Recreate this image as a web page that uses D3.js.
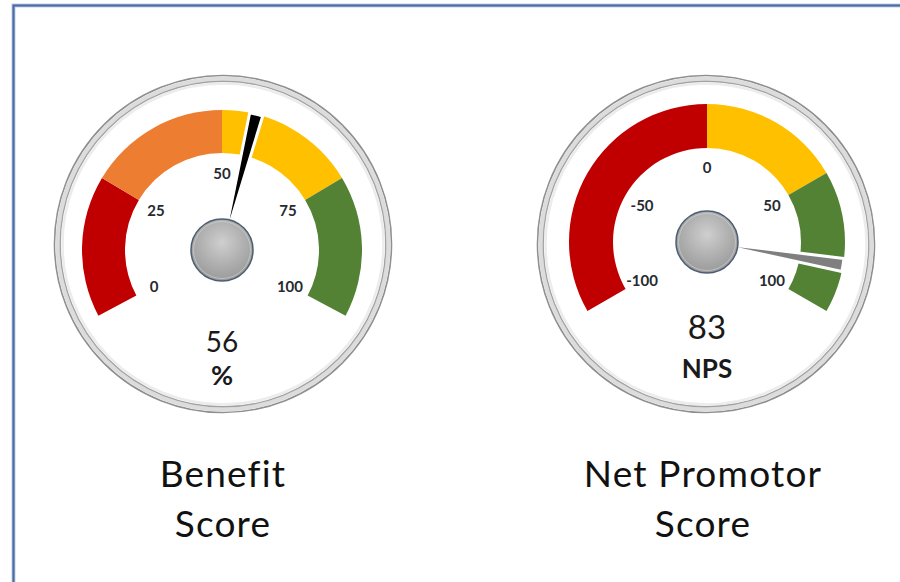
<!DOCTYPE html>
<html>
<head>
<meta charset="utf-8">
<script src="https://cdn.jsdelivr.net/npm/d3@7"></script>
<style>
  html, body { margin: 0; padding: 0; background: #fff; }
  svg { display: block; }
  text { font-family: Lato, "Open Sans", sans-serif; font-variant-ligatures: none; }
</style>
</head>
<body>
<div id="container"></div>
<script>
// gauge data
const gaugeIds = ["benefit", "nps"];
const gaugeValues = [56, 83];
const valueLabels = ["56", "83"];
const unitLabels = ["%", "NPS"];
const scaleMin = [0, -100];
const scaleMax = [100, 100];
const tickValues = [[0, 25, 50, 75, 100], [-100, -50, 0, 50, 100]];
const bandBreaks = [[0, 25, 50, 75, 100], [-100, 0, 50, 100]];
const titleLines = [["Benefit", "Score"], ["Net Promotor", "Score"]];

// styles
const bandColors = [
  ["#c00000", "#ed7d31", "#ffc000", "#548235"],
  ["#c00000", "#ffc000", "#548235"]
];
const needleColors = ["#000000", "#7f7f7f"];

// layout for each gauge
const layout = [
  {bx: 223, by: 244, cx: 222, cy: 250, sweep: 118, rIn: 97, rOut: 140, rLab: 77, rNeedle: 140,
   valY: 352, valSize: 28, unitY: 385, unitSize: 27, titleX: 223, titleY: [487, 537]},
  {bx: 706, by: 244, cx: 707, cy: 242, sweep: 120, rIn: 94, rOut: 138, rLab: 75, rNeedle: 138,
   valY: 339, valSize: 33, unitY: 378, unitSize: 26, titleX: 703, titleY: [487, 537]}
];

const width = 900, height = 582;
const rad = Math.PI / 180;

const svg = d3.select("#container").append("svg")
  .attr("width", width)
  .attr("height", height)
  .attr("viewBox", [0, 0, width, height]);

const defs = svg.append("defs");
const knobGrad = defs.append("radialGradient")
  .attr("id", "knob")
  .attr("cx", "50%").attr("cy", "38%").attr("r", "70%");
knobGrad.append("stop").attr("offset", "0%").attr("stop-color", "#cfcfcf");
knobGrad.append("stop").attr("offset", "50%").attr("stop-color", "#b0b0b0");
knobGrad.append("stop").attr("offset", "85%").attr("stop-color", "#9c9c9c");
knobGrad.append("stop").attr("offset", "100%").attr("stop-color", "#808080");

// card border (runs off the right and bottom edge)
svg.append("rect")
  .attr("x", 13.5).attr("y", 5.5)
  .attr("width", 1000).attr("height", 1000)
  .attr("fill", "none")
  .attr("stroke", "#c3d0e4")
  .attr("stroke-width", 4);
svg.append("rect")
  .attr("x", 13.5).attr("y", 5.5)
  .attr("width", 1000).attr("height", 1000)
  .attr("fill", "none")
  .attr("stroke", "#4a6da6")
  .attr("stroke-width", 2.2);

gaugeIds.forEach(function(id, i){
  const L = layout[i];
  const angle = d3.scaleLinear()
    .domain([scaleMin[i], scaleMax[i]])
    .range([-L.sweep * rad, L.sweep * rad]);

  // bezel
  const bez = svg.append("g").attr("class", "bezel " + id)
    .attr("transform", `translate(${L.bx},${L.by})`);
  bez.append("circle").attr("r", 168.5)
    .attr("fill", "#fff").attr("stroke", "#8f8f8f").attr("stroke-width", 1.6);
  bez.append("circle").attr("r", 165.5)
    .attr("fill", "none").attr("stroke", "#dcdcdc").attr("stroke-width", 4);
  bez.append("circle").attr("r", 162.8)
    .attr("fill", "none").attr("stroke", "#a3a3a3").attr("stroke-width", 1.4);
  bez.append("circle").attr("r", 160.5)
    .attr("fill", "none").attr("stroke", "#ececec").attr("stroke-width", 2.5);

  const g = svg.append("g").attr("class", "gauge " + id)
    .attr("transform", `translate(${L.cx},${L.cy})`);

  // colour bands
  const bandArc = d3.arc().innerRadius(L.rIn).outerRadius(L.rOut);
  const bands = d3.pairs(bandBreaks[i]);
  g.selectAll("path.band").data(bands).join("path")
    .attr("class", "band")
    .attr("fill", (d, j) => bandColors[i][j])
    .attr("d", d => bandArc({startAngle: angle(d[0]), endAngle: angle(d[1])}));

  // tick labels
  g.selectAll("text.tick").data(tickValues[i]).join("text")
    .attr("class", "tick")
    .attr("x", d => Math.sin(angle(d)) * L.rLab)
    .attr("y", d => -Math.cos(angle(d)) * L.rLab)
    .attr("text-anchor", "middle")
    .attr("dominant-baseline", "central")
    .attr("font-size", 15)
    .attr("font-weight", "bold")
    .attr("fill", "#262a30")
    .text(d => d);

  // needle: thin wedge with a white rim
  const a = angle(gaugeValues[i]);
  const needleW = 5.5 * rad;
  g.append("path")
    .attr("class", "needle")
    .attr("fill", needleColors[i])
    .attr("stroke", "#fff")
    .attr("stroke-width", 3)
    .attr("stroke-linejoin", "round")
    .attr("d", d3.arc()({innerRadius: 0, outerRadius: L.rNeedle,
      startAngle: a - needleW / 2, endAngle: a + needleW / 2}));

  // knob
  g.append("circle").attr("r", 31)
    .attr("fill", "url(#knob)")
    .attr("stroke", "#4d5d72").attr("stroke-width", 1.5);
  g.append("circle").attr("r", 28.5)
    .attr("fill", "none")
    .attr("stroke", "#d6d6d6").attr("stroke-width", 1).attr("stroke-opacity", 0.6);

  // value + unit
  svg.append("text")
    .attr("x", L.cx).attr("y", L.valY)
    .attr("text-anchor", "middle")
    .attr("font-size", L.valSize)
    .attr("fill", "#1a1a1a")
    .text(valueLabels[i]);
  svg.append("text")
    .attr("x", L.cx).attr("y", L.unitY)
    .attr("text-anchor", "middle")
    .attr("font-size", L.unitSize)
    .attr("font-weight", "bold")
    .attr("fill", "#1a1a1a")
    .text(unitLabels[i]);

  // title
  svg.selectAll("text.title-" + id).data(titleLines[i]).join("text")
    .attr("class", "title-" + id)
    .attr("x", L.titleX)
    .attr("y", (d, j) => L.titleY[j])
    .attr("text-anchor", "middle")
    .attr("font-size", 37)
    .attr("letter-spacing", 1.2)
    .attr("fill", "#111")
    .text(d => d);
});
</script>
</body>
</html>
